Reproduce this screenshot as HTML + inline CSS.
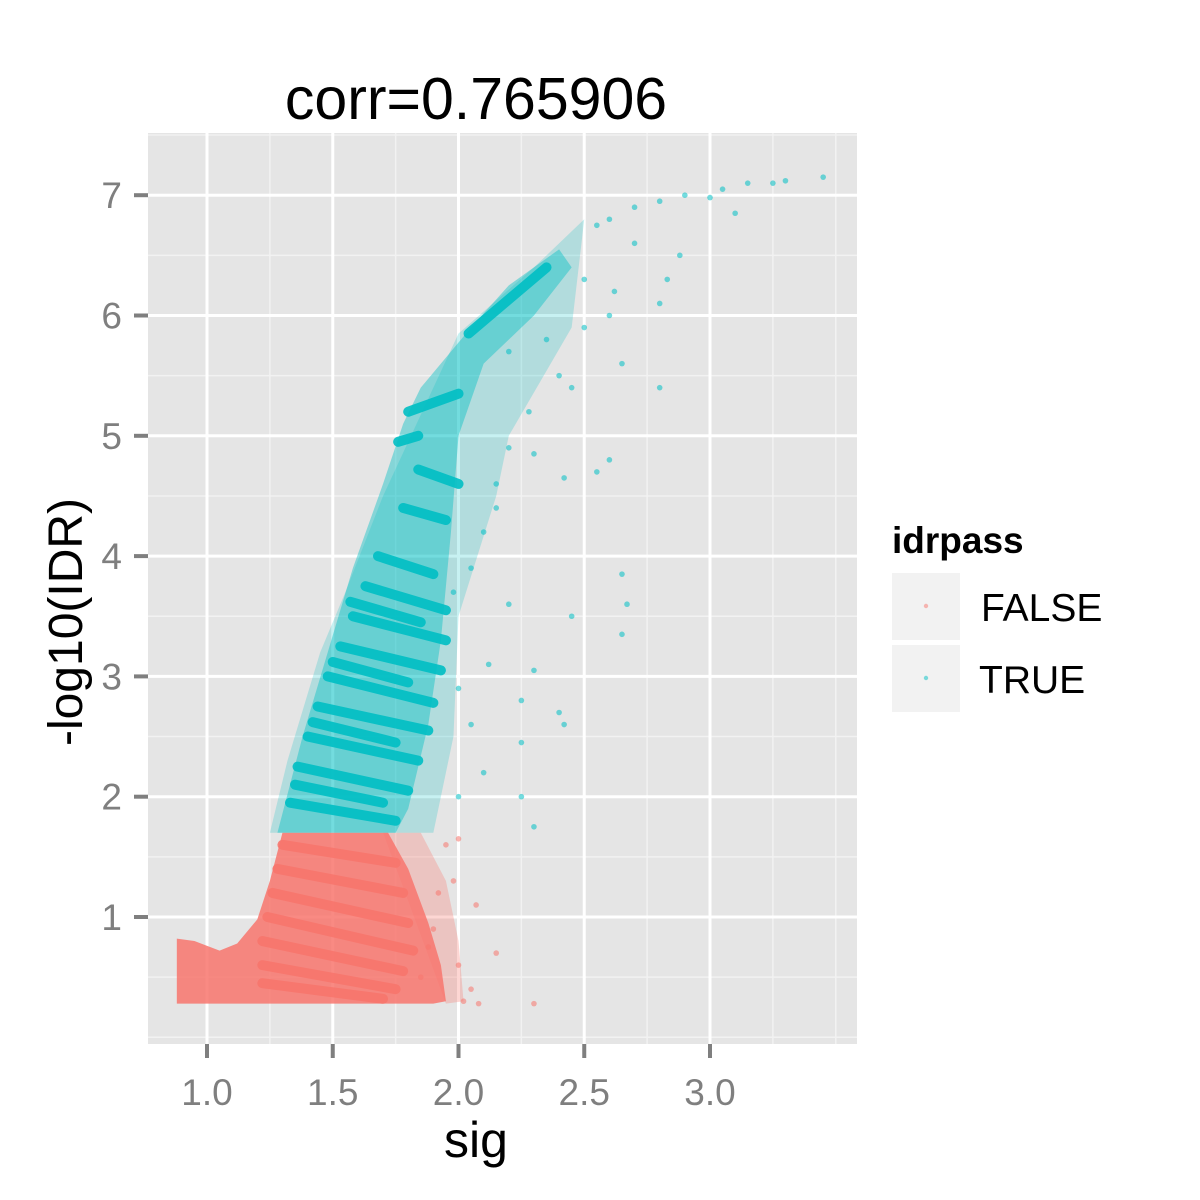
<!DOCTYPE html>
<html><head><meta charset="utf-8">
<style>
html,body{margin:0;padding:0;background:#fff;}
svg{display:block;font-family:"Liberation Sans",sans-serif;}
</style></head>
<body>
<svg id="chart" width="1200" height="1200" viewBox="0 0 1200 1200" xmlns="http://www.w3.org/2000/svg">
<rect x="0" y="0" width="1200" height="1200" fill="#fff"/>
<rect x="148" y="133" width="709" height="911" fill="#e5e5e5"/>
<g id="grid"></g>
<g id="marks"></g>
<g id="axes"></g>
<text x="476" y="119" font-size="59" text-anchor="middle" fill="#000">corr=0.765906</text>
<text x="476" y="1157" font-size="50" text-anchor="middle" fill="#000">sig</text>
<text x="0" y="0" font-size="48" text-anchor="middle" fill="#000" transform="translate(82,622) rotate(-90)">-log10(IDR)</text>
<g>
<text x="892" y="553" font-size="37" font-weight="bold" fill="#000">idrpass</text>
<rect x="892" y="573" width="68" height="67" fill="#f2f2f2"/>
<circle cx="926" cy="606" r="2.2" fill="#F8766D" opacity="0.5"/>
<text x="981" y="621" font-size="39" fill="#000">FALSE</text>
<rect x="892" y="645" width="68" height="67" fill="#f2f2f2"/>
<circle cx="926" cy="678" r="2.2" fill="#00BFC4" opacity="0.5"/>
<text x="979" y="693" font-size="39" fill="#000">TRUE</text>
</g>
</svg>
<script>
// axis ticks
const xTicks = [1.0, 1.5, 2.0, 2.5, 3.0];
const xTickLabels = ["1.0", "1.5", "2.0", "2.5", "3.0"];
const xMinor = [1.25, 1.75, 2.25, 2.75, 3.25, 3.5];
const yTicks = [1, 2, 3, 4, 5, 6, 7];
const yTickLabels = ["1", "2", "3", "4", "5", "6", "7"];
const yMinor = [0, 0.5, 1.5, 2.5, 3.5, 4.5, 5.5, 6.5, 7.5];
// dense regions (data coords: sig, -log10 IDR)
const falseRegionX = [0.88, 0.88, 0.95, 1.05, 1.12, 1.2, 1.25, 1.3, 1.72, 1.8, 1.88, 1.93, 1.95, 1.9];
const falseRegionY = [0.28, 0.82, 0.8, 0.72, 0.78, 0.98, 1.3, 1.7, 1.7, 1.4, 0.95, 0.6, 0.3, 0.28];
const falseHaloX = [1.7, 1.85, 1.95, 2.0, 2.02, 1.95];
const falseHaloY = [1.7, 1.7, 1.3, 0.8, 0.3, 0.28];
const trueRegionX = [1.28, 1.38, 1.48, 1.58, 1.7, 1.78, 1.85, 2.05, 2.2, 2.4, 2.45, 2.3, 2.1, 2.0, 1.97, 1.93, 1.88, 1.8, 1.75];
const trueRegionY = [1.7, 2.5, 3.2, 3.9, 4.6, 5.1, 5.4, 5.9, 6.25, 6.55, 6.4, 6.0, 5.6, 5.0, 4.2, 3.3, 2.6, 1.9, 1.7];
const trueHaloX = [1.25, 1.32, 1.45, 1.55, 1.7, 2.0, 2.3, 2.5, 2.45, 2.2, 2.15, 2.0, 1.98, 1.9, 1.8];
const trueHaloY = [1.7, 2.3, 3.2, 3.7, 4.5, 5.85, 6.4, 6.8, 5.9, 5.0, 4.5, 3.5, 2.5, 1.7, 1.7];
// streak segments
const streakX0 = [1.33, 1.36, 1.4, 1.44, 1.48, 1.53, 1.58, 1.63, 1.68, 1.78, 1.84, 1.76, 1.8, 2.04, 1.35, 1.42, 1.5, 1.57, 1.3, 1.28, 1.26, 1.24, 1.22, 1.22, 1.22];
const streakY0 = [1.95, 2.25, 2.5, 2.75, 3.0, 3.25, 3.5, 3.75, 4.0, 4.4, 4.72, 4.95, 5.2, 5.85, 2.1, 2.62, 3.12, 3.62, 1.6, 1.4, 1.2, 1.0, 0.8, 0.6, 0.45];
const streakX1 = [1.75, 1.8, 1.84, 1.88, 1.9, 1.93, 1.95, 1.95, 1.9, 1.95, 2.0, 1.84, 2.0, 2.35, 1.7, 1.75, 1.8, 1.85, 1.75, 1.78, 1.8, 1.82, 1.78, 1.75, 1.7];
const streakY1 = [1.8, 2.05, 2.3, 2.55, 2.78, 3.05, 3.3, 3.55, 3.85, 4.3, 4.6, 5.0, 5.35, 6.4, 1.95, 2.45, 2.95, 3.45, 1.45, 1.2, 0.95, 0.72, 0.55, 0.4, 0.32];
const streakSeries = ["T","T","T","T","T","T","T","T","T","T","T","T","T","T","T","T","T","T","F","F","F","F","F","F","F"];
// sparse outliers
const trueX = [3.45,3.3,3.25,3.15,3.05,3.0,2.9,2.8,2.7,2.6,2.55,3.1,2.88,2.83,2.8,2.6,2.5,2.45,2.8,2.65,2.4,2.2,2.3,2.2,2.42,2.55,2.6,2.65,2.67,2.65,2.45,2.3,2.25,2.25,2.4,2.42,2.3,2.25,2.1,2.2,2.1,2.15,2.05,2.0,2.35,2.5,2.7,2.62,2.28,2.15,2.05,2.12,2.0,1.98];
const trueY = [7.15,7.12,7.1,7.1,7.05,6.98,7.0,6.95,6.9,6.8,6.75,6.85,6.5,6.3,6.1,6.0,5.9,5.4,5.4,5.6,5.5,5.7,4.85,4.9,4.65,4.7,4.8,3.85,3.6,3.35,3.5,3.05,2.8,2.45,2.7,2.6,1.75,2.0,2.2,3.6,4.2,4.6,3.9,2.0,5.8,6.3,6.6,6.2,5.2,4.4,2.6,3.1,2.9,3.7];
const falseX = [2.3,2.15,2.07,2.0,2.02,1.95,1.98,1.9,2.05,1.85,2.08,2.0,1.92,1.88];
const falseY = [0.28,0.7,1.1,0.6,0.3,1.6,1.3,0.9,0.4,0.5,0.28,1.65,1.2,0.75];

const NS = "http://www.w3.org/2000/svg";
const X = v => 207 + (v - 1) * 251.5;
const Y = v => 917 - (v - 1) * 120.3;
const RED = "#F8766D", TEAL = "#00BFC4";
function mk(tag, attrs, parent) {
  const e = document.createElementNS(NS, tag);
  for (const k in attrs) e.setAttribute(k, attrs[k]);
  parent.appendChild(e); return e;
}
const grid = document.getElementById("grid"), marks = document.getElementById("marks"), axes = document.getElementById("axes");
xMinor.forEach(v => { const l = mk("line", {x1: X(v), x2: X(v), y1: 133, y2: 1044, stroke: "#f2f2f2", "stroke-width": 1.5}, grid);
    });
yMinor.forEach(v => { const l = mk("line", {x1: 148, x2: 857, y1: Y(v), y2: Y(v), stroke: "#f2f2f2", "stroke-width": 1.5}, grid);
    });
xTicks.forEach((v, i) => {
  const l = mk("line", {x1: X(v), x2: X(v), y1: 133, y2: 1044, stroke: "#fff", "stroke-width": 3}, grid);
   
  const t = mk("line", {x1: X(v), x2: X(v), y1: 1044, y2: 1058, stroke: "#7f7f7f", "stroke-width": 4}, axes);
   
  const tx = mk("text", {x: X(v), y: 1105, "font-size": 37, "text-anchor": "middle", fill: "#7f7f7f"}, axes);
  tx.textContent = xTickLabels[i];
   
});
yTicks.forEach((v, i) => {
  const l = mk("line", {x1: 148, x2: 857, y1: Y(v), y2: Y(v), stroke: "#fff", "stroke-width": 3}, grid);
   
  const t = mk("line", {x1: 134, x2: 148, y1: Y(v), y2: Y(v), stroke: "#7f7f7f", "stroke-width": 4}, axes);
   
  const tx = mk("text", {x: 122, y: Y(v) + 13, "font-size": 37, "text-anchor": "end", fill: "#7f7f7f"}, axes);
  tx.textContent = yTickLabels[i];
   
});
function poly(xs, ys, color, op, name) {
  const pts = xs.map((x, i) => X(x) + "," + Y(ys[i])).join(" ");
  const p = mk("polygon", {points: pts, fill: color, opacity: op}, marks);
   
}
poly(falseHaloX, falseHaloY, RED, 0.3, 'false-sparse-region');
poly(trueHaloX, trueHaloY, TEAL, 0.22, 'true-sparse-region');
poly(falseRegionX, falseRegionY, RED, 0.85, 'false-dense-region');
poly(trueRegionX, trueRegionY, TEAL, 0.42, 'true-dense-region');
streakX0.forEach((x0, i) => {
  const l = mk("line", {x1: X(x0), y1: Y(streakY0[i]), x2: X(streakX1[i]), y2: Y(streakY1[i]),
    stroke: streakSeries[i] === "T" ? TEAL : RED, "stroke-width": 10, "stroke-linecap": "round", opacity: 0.9}, marks);
   
});
trueX.forEach((x, i) => {
  const c = mk("circle", {cx: X(x), cy: Y(trueY[i]), r: 2.8, fill: TEAL, opacity: 0.55}, marks);
   
});
falseX.forEach((x, i) => {
  const c = mk("circle", {cx: X(x), cy: Y(falseY[i]), r: 2.8, fill: RED, opacity: 0.55}, marks);
   
});
</script>
</body></html>
